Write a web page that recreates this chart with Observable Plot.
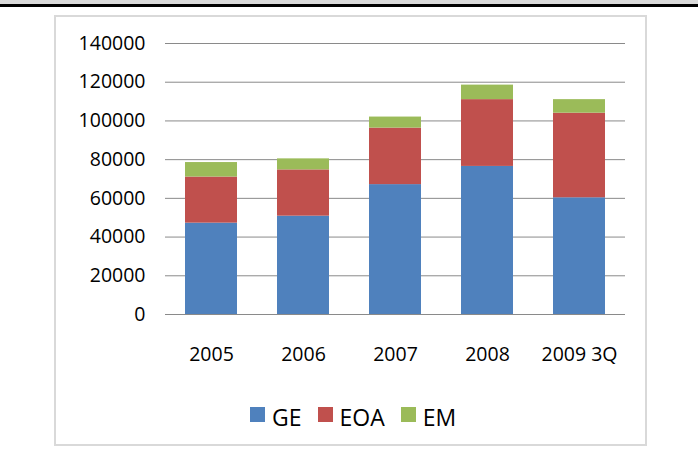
<!DOCTYPE html>
<html>
<head>
<meta charset="utf-8">
<script src="https://cdn.jsdelivr.net/npm/d3@7"></script>
<script src="https://cdn.jsdelivr.net/npm/@observablehq/plot@0.6"></script>
<style>
  html, body { margin: 0; padding: 0; background: #fff; }
  body { width: 698px; height: 451px; position: relative; overflow: hidden;
         font-family: "Open Sans", "Noto Sans", sans-serif; color: #000; }
  #topbar { position: absolute; left: 0; top: 0; width: 698px; height: 4px;
            background: #d9d9d9; border-bottom: 3px solid #000; }
  #frame { position: absolute; left: 54px; top: 15px; width: 589px; height: 427px;
           border: 2px solid #d9d9d9; background: #fff; }
  #chart { position: absolute; left: 0; top: 0; }
  #legend { position: absolute; left: 194px; top: 389px; display: flex;
            align-items: center; font-size: 23px; line-height: 1; }
  .item { display: flex; align-items: center; margin-right: 16px; }
  .swatch { width: 15px; height: 15px; margin-right: 7px; position: relative; top: -3px; }
</style>
</head>
<body>
<div id="topbar"></div>
<div id="frame">
  <div id="chart"></div>
  <div id="legend"></div>
</div>
<script>
// Categories and stacked series values (bottom to top: GE, EOA, EM)
const categories = ["2005", "2006", "2007", "2008", "2009 3Q"];
const seriesNames = ["GE", "EOA", "EM"];
const seriesColors = ["#4f81bd", "#c0504d", "#9bbb59"];
const geValues = [47200, 50800, 67100, 76500, 60300];
const eoaValues = [23800, 23900, 29200, 34500, 43700];
const emValues = [7500, 5700, 5700, 7500, 7000];
const yTicks = [0, 20000, 40000, 60000, 80000, 100000, 120000, 140000];

const seriesValues = [geValues, eoaValues, emValues];
const rows = [];
seriesNames.forEach((name, s) => {
  categories.forEach((cat, i) => {
    rows.push({ category: cat, series: name, value: seriesValues[s][i] });
  });
});

const chart = Plot.plot({
  width: 589,
  height: 370,
  marginLeft: 109,
  marginRight: 20,
  marginTop: 26,
  marginBottom: 73,
  style: { fontFamily: "'Open Sans', 'Noto Sans', sans-serif", fontSize: "19.5px", color: "#000", background: "transparent" },
  x: { domain: categories, paddingInner: 0.43, paddingOuter: 0.215, label: null },
  y: { domain: [0, 140000], ticks: yTicks, label: null },
  color: { domain: seriesNames, range: seriesColors },
  marks: [
    Plot.gridY(yTicks, { stroke: "#8a8a8a", strokeOpacity: 1, strokeWidth: 1 }),
    Plot.barY(rows, Plot.stackY({
      x: "category",
      y: "value",
      fill: "series",
      order: seriesNames
    })),
    Plot.axisY(yTicks, { tickSize: 0, tickPadding: 20, tickFormat: d => String(d), fill: "#000" }),
    Plot.axisX({ tickSize: 0, tickPadding: 33, fill: "#000" })
  ]
});
document.getElementById("chart").appendChild(chart);

// Legend below the plot
const legend = document.getElementById("legend");
seriesNames.forEach((name, i) => {
  const item = document.createElement("div");
  item.className = "item";
  const sw = document.createElement("span");
  sw.className = "swatch";
  sw.style.background = seriesColors[i];
  const label = document.createElement("span");
  label.textContent = name;
  item.appendChild(sw);
  item.appendChild(label);
  legend.appendChild(item);
});
</script>
</body>
</html>
